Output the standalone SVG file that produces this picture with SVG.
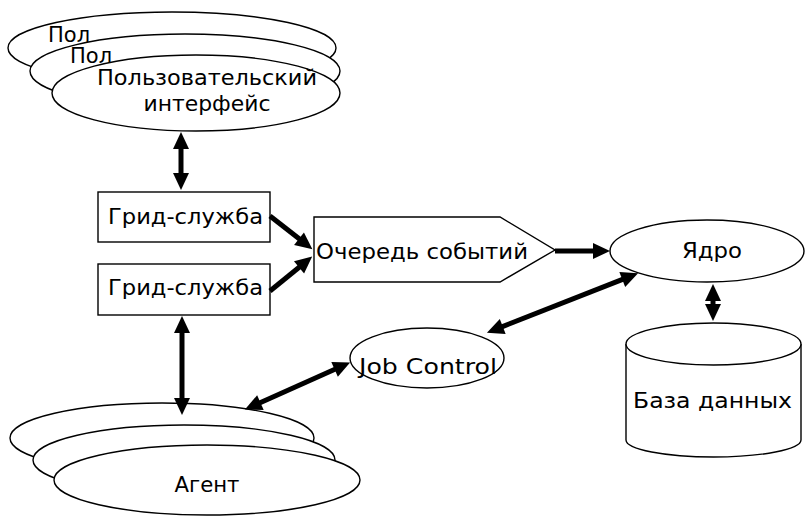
<svg xmlns="http://www.w3.org/2000/svg" width="805" height="521" viewBox="0 0 805 521">
<defs>
<style>
.shape{fill:#fff;stroke:#000;stroke-width:1.4}
.lbl{font-family:"DejaVu Sans","Verdana",sans-serif;font-size:21px;fill:#000}
.c{text-anchor:middle}
.conn{stroke:#000;stroke-width:5;fill:none}
</style>
<marker id="ah" markerUnits="userSpaceOnUse" markerWidth="18" markerHeight="18" refX="1" refY="8" orient="auto-start-reverse" overflow="visible"><path d="M0,0 L17,8 L0,16 z" fill="#000"/></marker>
</defs>
<rect width="805" height="521" fill="#fff"/>

<g id="ui">
<ellipse class="shape" cx="172" cy="48" rx="164" ry="36"/>
<text class="lbl" x="48" y="42">Пол</text>
<ellipse class="shape" cx="185" cy="71" rx="155" ry="37"/>
<text class="lbl" x="70" y="63">Пол</text>
<ellipse class="shape" cx="196" cy="93" rx="144" ry="38"/>
<text class="lbl c" x="207" y="85" textLength="220" lengthAdjust="spacingAndGlyphs">Пользовательский</text>
<text class="lbl c" x="207" y="111" textLength="127" lengthAdjust="spacingAndGlyphs">интерфейс</text>
</g>

<g id="grid1">
<rect class="shape" x="98" y="192" width="172" height="50"/>
<text class="lbl c" x="185.5" y="224" textLength="155" lengthAdjust="spacingAndGlyphs">Грид-служба</text>
</g>
<g id="grid2">
<rect class="shape" x="98" y="264" width="172" height="51"/>
<text class="lbl c" x="185.5" y="295" textLength="155" lengthAdjust="spacingAndGlyphs">Грид-служба</text>
</g>

<g id="queue">
<path class="shape" d="M314,217 H500 L555,250 L500,282 H314 Z"/>
<text class="lbl" x="316" y="259" textLength="212" lengthAdjust="spacingAndGlyphs">Очередь событий</text>
</g>

<g id="core">
<ellipse class="shape" cx="707" cy="251" rx="97" ry="31"/>
<text class="lbl c" x="712" y="258" textLength="60" lengthAdjust="spacingAndGlyphs">Ядро</text>
</g>

<g id="db">
<path class="shape" d="M626,344 V440 A87.5,17 0 0 0 801,440 V344"/>
<ellipse class="shape" cx="713.5" cy="344" rx="87.5" ry="21"/>
<text class="lbl c" x="712.5" y="408" textLength="159" lengthAdjust="spacingAndGlyphs">База данных</text>
</g>

<g id="jobcontrol">
<ellipse class="shape" cx="427" cy="358" rx="77" ry="30"/>
<text class="lbl c" x="428" y="374" textLength="138" lengthAdjust="spacingAndGlyphs">Job Control</text>
</g>

<g id="agent">
<ellipse class="shape" cx="162" cy="438" rx="152" ry="35"/>
<ellipse class="shape" cx="184" cy="460" rx="151" ry="35"/>
<ellipse class="shape" cx="207" cy="480" rx="153" ry="35"/>
<text class="lbl c" x="207" y="492" textLength="65" lengthAdjust="spacingAndGlyphs">Агент</text>
</g>

<g id="connectors">
<line class="conn" x1="181" y1="148" x2="181" y2="174" marker-start="url(#ah)" marker-end="url(#ah)"/>
<line class="conn" x1="270" y1="216" x2="299.8" y2="239.3" marker-end="url(#ah)"/>
<line class="conn" x1="270" y1="291" x2="299.8" y2="266.7" marker-end="url(#ah)"/>
<line class="conn" x1="555" y1="251" x2="594" y2="251" marker-end="url(#ah)"/>
<line class="conn" x1="623.2" y1="279.2" x2="501.8" y2="326.8" marker-start="url(#ah)" marker-end="url(#ah)"/>
<line class="conn" x1="335.5" y1="369" x2="259.5" y2="403" marker-start="url(#ah)" marker-end="url(#ah)"/>
<line class="conn" x1="182" y1="332" x2="182" y2="399" marker-start="url(#ah)" marker-end="url(#ah)"/>
<line class="conn" x1="713" y1="300" x2="713" y2="305" marker-start="url(#ah)" marker-end="url(#ah)"/>
</g>
</svg>
